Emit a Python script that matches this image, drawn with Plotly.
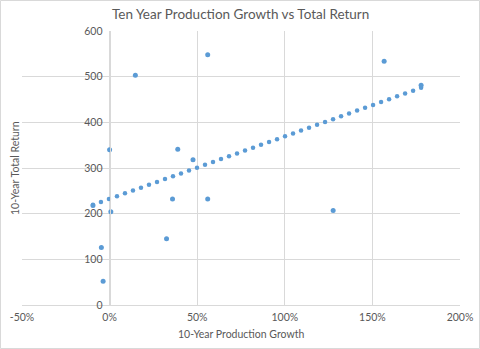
import numpy as np
import plotly.graph_objects as go

# Data (x = 10-year production growth in %, y = 10-year total return)
growth = [0.0, 14.7, 56.0, 38.9, 47.6, 0.7, -4.7, -3.7, 32.5, 35.9, 56.0, 156.7, 177.8, 127.6, -9.5]
total_return = [340, 503, 548, 341, 318, 204, 126, 52, 145, 232, 232, 534, 481, 207, 218]

x_tick_vals = [-50, 0, 50, 100, 150, 200]
x_tick_labels = ["-50%", "0%", "50%", "100%", "150%", "200%"]
y_tick_vals = [0, 100, 200, 300, 400, 500, 600]

title_text = "Ten Year Production Growth vs Total Return"
x_title = "10-Year Production Growth"
y_title = "10-Year Total Return"

# Linear trendline (least squares), drawn as round dots
slope, intercept = np.polyfit(growth, total_return, 1)
tx = np.linspace(min(growth), max(growth), 42)
ty = slope * tx + intercept

blue = "#5B9BD5"
grey_text = "#595959"
grid = "#D9D9D9"
font_family = "Lato, 'Open Sans', sans-serif"

W, H = 480, 349
L, R, T, B = 22, 20, 31, 44
pw, ph = W - L - R, H - T - B

def px_to_paper_x(px):
    return (px - L) / pw

def px_to_paper_y(py):
    return (H - B - py) / ph

fig = go.Figure()
fig.add_trace(go.Scatter(x=tx, y=ty, mode="markers",
                         marker=dict(size=4.5, color=blue), hoverinfo="skip",
                         showlegend=False))
fig.add_trace(go.Scatter(x=growth, y=total_return, mode="markers",
                         marker=dict(size=5, color=blue), showlegend=False))

fig.update_layout(
    width=W, height=H,
    margin=dict(l=L, r=R, t=T, b=B),
    paper_bgcolor="white", plot_bgcolor="white",
    font=dict(family=font_family, color=grey_text, size=10),
    xaxis=dict(range=[-50, 200], tickvals=x_tick_vals, ticktext=x_tick_labels,
               showgrid=True, gridcolor=grid, gridwidth=1, zeroline=False,
               showline=True, linecolor=grid, ticks="", automargin=False,
               ticklabelstandoff=2,
               tickfont=dict(size=10.5, color=grey_text, family=font_family)),
    yaxis=dict(range=[0, 600], tickvals=y_tick_vals,
               showgrid=True, gridcolor=grid, gridwidth=1, zeroline=False,
               showline=True, linecolor=grid, ticks="", automargin=False,
               anchor="free", position=0.2, ticklabelstandoff=5,
               tickfont=dict(size=10.5, color=grey_text, family=font_family)),
    shapes=[dict(type="rect", xref="paper", yref="paper",
                 x0=px_to_paper_x(0.5), x1=px_to_paper_x(479.5),
                 y0=px_to_paper_y(348.5), y1=px_to_paper_y(0.5),
                 line=dict(color=grid, width=1), layer="below")],
    annotations=[
        dict(text=title_text, xref="paper", yref="paper",
             x=px_to_paper_x(240), y=px_to_paper_y(14), showarrow=False,
             xanchor="center", yanchor="middle",
             font=dict(size=13.5, color=grey_text, family=font_family)),
        dict(text=x_title, xref="paper", yref="paper",
             x=px_to_paper_x(241), y=px_to_paper_y(334), showarrow=False,
             xanchor="center", yanchor="middle",
             font=dict(size=10.5, color=grey_text, family=font_family)),
        dict(text=y_title, xref="paper", yref="paper",
             x=px_to_paper_x(15), y=px_to_paper_y(168), showarrow=False,
             textangle=-90, xanchor="center", yanchor="middle",
             font=dict(size=10.5, color=grey_text, family=font_family)),
    ],
)

fig.write_html("out.html")
